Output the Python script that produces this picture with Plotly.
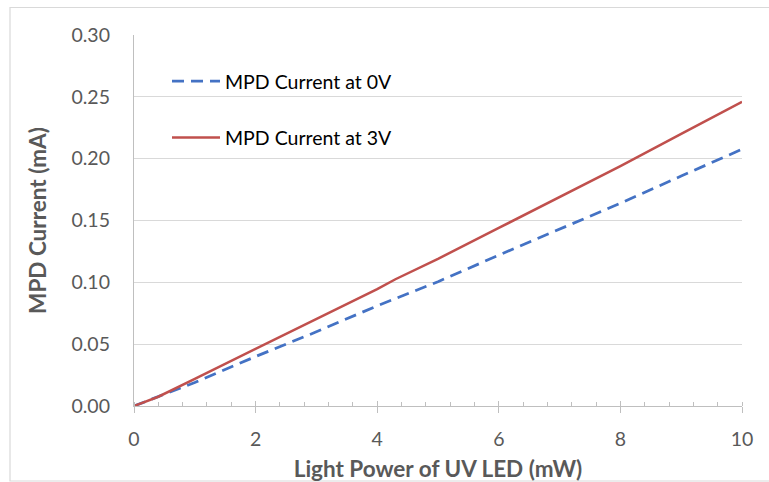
import plotly.graph_objects as go

power_0v = [0, 0.4, 1, 2, 3, 4, 5, 6, 7, 8, 9, 10]
current_0v = [0, 0.0075, 0.019, 0.040, 0.060, 0.081, 0.1005, 0.122, 0.143, 0.164, 0.186, 0.2076]

power_3v = [0, 0.4, 1, 2, 2.4, 3, 4, 4.3, 5, 6, 7, 7.5, 8, 9, 10]
current_3v = [0, 0.0075, 0.022, 0.046, 0.056, 0.070, 0.0945, 0.1025, 0.119, 0.144, 0.169, 0.181, 0.194, 0.220, 0.246]

name_0v = "MPD Current at 0V"
name_3v = "MPD Current at 3V"
x_title = "Light Power of UV LED (mW)"
y_title = "MPD Current (mA)"

FONT = "Lato"
GRAY = "#595959"

fig = go.Figure()
fig.add_trace(go.Scatter(x=power_0v, y=current_0v, mode="lines", name=name_0v,
                         legendgroup="a",
                         line=dict(color="#4472C4", width=2.75, dash="12px,7px")))
fig.add_trace(go.Scatter(x=power_3v, y=current_3v, mode="lines", name=name_3v,
                         legendgroup="b",
                         line=dict(color="#C0504D", width=2.5)))
# helper trace for inside ticks on x axis
fig.add_trace(go.Scatter(x=[0, 10], y=[0, 0], xaxis="x2", mode="lines",
                         line=dict(width=0), showlegend=False, hoverinfo="skip"))

W, H = 769, 482
L, R, T, B = 134, 27, 35, 76
pw, ph = W - L - R, H - T - B

fig.update_layout(
    width=W, height=H,
    margin=dict(l=L, r=R, t=T, b=B, autoexpand=False),
    paper_bgcolor="white", plot_bgcolor="white",
    font=dict(family=FONT, color=GRAY, size=19),
    showlegend=True,
    legend=dict(x=(167 - L) / pw, y=(406 - 62) / ph, xanchor="left", yanchor="top",
                bgcolor="rgba(0,0,0,0)", font=dict(size=19.5, color="#000000", family=FONT),
                tracegroupgap=28, itemwidth=48),
    xaxis=dict(range=[0, 10], dtick=2, tick0=0, showgrid=False, zeroline=False,
               automargin=False,
               showline=True, linecolor="#bfbfbf", linewidth=1.2,
               ticks="outside", ticklen=6, tickcolor="#bfbfbf", tickwidth=1.2,
               minor=dict(dtick=0.4, tick0=0, ticks="inside", ticklen=4,
                          tickcolor="#bfbfbf", tickwidth=1.2, showgrid=False),
               tickfont=dict(size=19.5, color=GRAY, family=FONT),
               ticklabelstandoff=9,
               title=dict(text="<b>" + x_title + "</b>", standoff=15,
                          font=dict(size=22.5, color=GRAY, family=FONT))),
    xaxis2=dict(range=[0, 10], overlaying="x", side="bottom", dtick=2, tick0=0,
                automargin=False,
                showticklabels=False, showgrid=False, zeroline=False, showline=False,
                ticks="inside", ticklen=5, tickcolor="#bfbfbf", tickwidth=1.2),
    yaxis=dict(range=[0, 0.30], dtick=0.05, tickformat=".2f", showgrid=True,
               automargin=False,
               gridcolor="#d9d9d9", gridwidth=1.2, zeroline=False,
               showline=True, linecolor="#bfbfbf", linewidth=1.2, ticks="",
               tickfont=dict(size=19.5, color=GRAY, family=FONT),
               ticklabelstandoff=19,
               title=dict(text="<b>" + y_title + "</b>", standoff=18,
                          font=dict(size=22.5, color=GRAY, family=FONT))),
    shapes=[dict(type="rect", xref="paper", yref="paper",
                 x0=(10 - L) / pw, x1=(780 - L) / pw,
                 y0=(406 - 481) / ph, y1=(406 - 7.5) / ph,
                 line=dict(color="#d9d9d9", width=1.2), fillcolor="rgba(0,0,0,0)",
                 layer="below")],
)

fig.write_html("out.html")
